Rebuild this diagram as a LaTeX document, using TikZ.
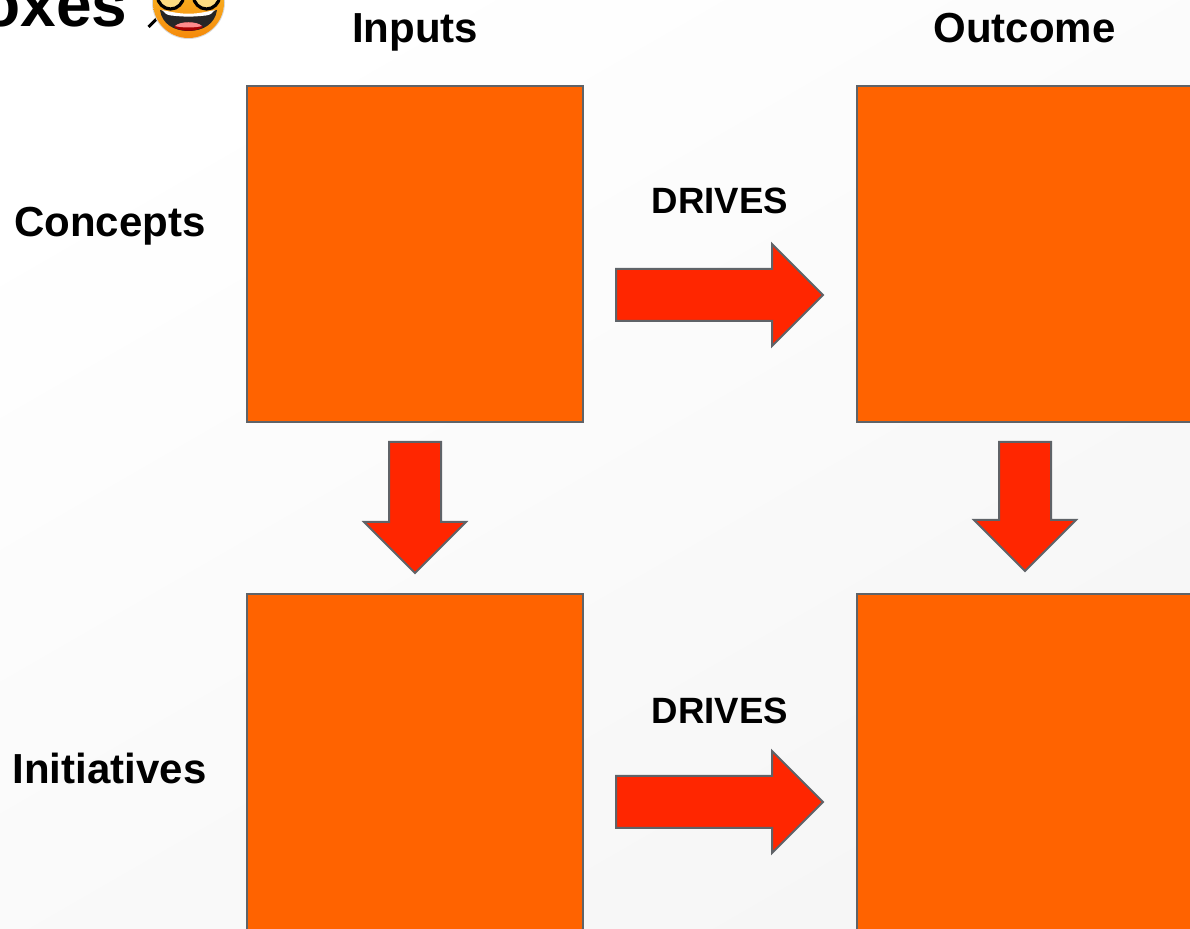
\documentclass[tikz,border=0pt]{standalone}
\usepackage{fontspec}
\setmainfont{Liberation Sans}
\usetikzlibrary{shapes.arrows,calc}
\definecolor{boxorange}{HTML}{FF6300}
\definecolor{arrowred}{HTML}{FF2600}
\definecolor{edgegray}{HTML}{5F6368}
\definecolor{facetop}{HTML}{FBC52D}
\definecolor{facelow}{HTML}{F58A0B}
\tikzset{
  quadbox/.style={draw=edgegray,fill=boxorange,line width=1pt,minimum size=168pt,inner sep=0pt,outer sep=0pt},
  blockarrow/.style={draw=edgegray,fill=arrowred,line width=1pt,single arrow,single arrow head extend=12.5pt,
    single arrow tip angle=90,inner xsep=0pt,inner ysep=12.5pt,outer sep=0pt,anchor=tip},
  headtext/.style={font=\bfseries\fontsize{21}{25}\selectfont,inner sep=0pt,anchor=base},
  drivetext/.style={font=\bfseries\fontsize{18.3}{22}\selectfont,inner sep=0pt,anchor=base}
}
\begin{document}
\begin{tikzpicture}[x=0.5pt,y=-0.5pt]
    \useasboundingbox (0,0) rectangle (1190,929);
    % page background
    \shade[left color=white,right color=white!96.5!black,shading angle=30] (0,0) rectangle (1190,929);
    % boxes
    \node[quadbox] (conceptin) at (415,254) {};
    \node[quadbox] (conceptout) at (1025,254) {};
    \node[quadbox] (initin) at (415,762) {};
    \node[quadbox] (initout) at (1025,762) {};
    % labels
    \node[headtext] (inputs) at (415,43) {Inputs};
    \node[headtext] (outcome) at (1024.5,43) {Outcome};
    \node[headtext] (concepts) at (110,237) {Concepts};
    \node[headtext] (initiatives) at (109.5,784) {Initiatives};
    \node[anchor=base east,inner sep=0pt,font=\bfseries\fontsize{32}{34}\selectfont] (boxes) at (128,26.5) {oxes};
    % arrows
    \node[blockarrow,minimum height=103.5pt] (driveup) at ($(conceptout.west)+(-34,41)$) {};
    \node[blockarrow,minimum height=103.5pt] (drivelow) at ($(initout.west)+(-34,40)$) {};
    \node[blockarrow,minimum height=65.5pt,rotate=-90] (downin) at ($(initin.north)+(0,-21)$) {};
    \node[blockarrow,minimum height=64.5pt,rotate=-90] (downout) at ($(initout.north)+(0,-23)$) {};
    \node[drivetext] (driveslabup) at (720,214) {DRIVES};
    \node[drivetext] (driveslablow) at (720,724) {DRIVES};
    % emoji
    \draw[line width=1.5pt] (148.5,27) -- (158,17.5);
    \fill[white!85!black] (188.5,2.5) circle (36.5);
    \shade[top color=facetop,bottom color=facelow] (188.5,2.5) circle (35.5);
    \fill[black!85] (160,10) .. controls (185,16) and (192,16) .. (217,10) .. controls (215,24) and (203,31) .. (188.5,31) .. controls (174,31) and (162,24) .. (160,10) -- cycle;
    \fill[white] (162,10) .. controls (185,15) and (192,15) .. (215,10) .. controls (213,13) and (210,15) .. (206,15.5) .. controls (192,17) and (185,17) .. (171,15.5) .. controls (167,15) and (164,13) .. (162,10) -- cycle;
    \fill[red!65!black] (174,27) .. controls (179,21) and (198,21) .. (203,27) .. controls (196,32) and (181,32) .. (174,27) -- cycle;
    \fill[red!45!white] (175,26) .. controls (180,21) and (197,21) .. (202,26) .. controls (195,28) and (182,28) .. (175,26) -- cycle;
    \foreach \ex in {170.5,206.5}
    \draw[black,line width=1.6pt,fill=facetop!60!white] (\ex,-4) circle (13);
    \draw[black,line width=1.6pt] (183,-2) -- (194,-2);
\end{tikzpicture}
\end{document}
